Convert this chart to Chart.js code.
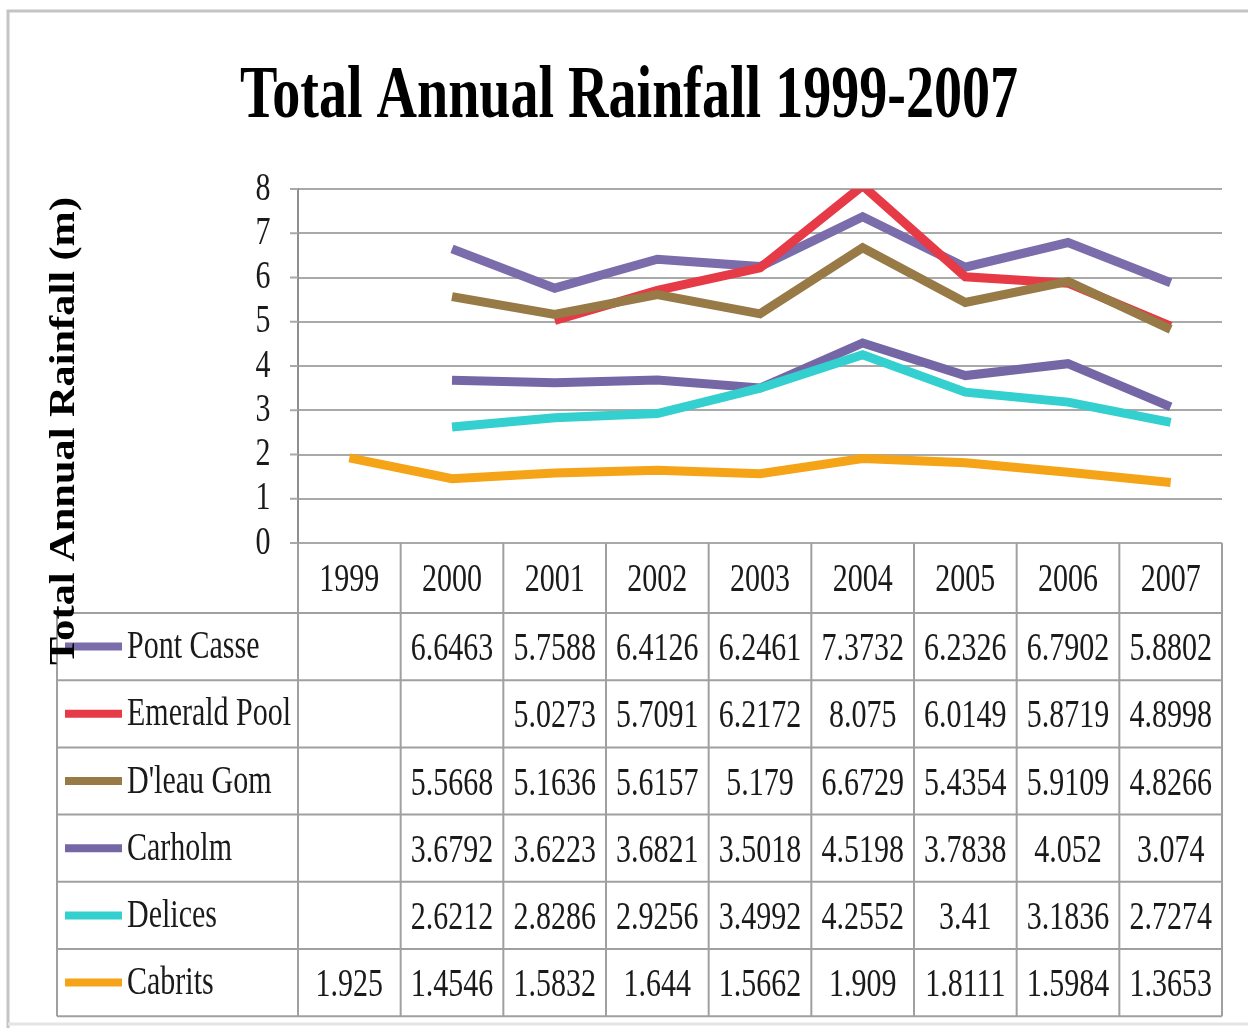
<!DOCTYPE html>
<html>
<head>
<meta charset="utf-8">
<title>Total Annual Rainfall 1999-2007</title>
<script src="https://cdn.jsdelivr.net/npm/chart.js@4/dist/chart.umd.min.js"></script>
<style>
  body { margin: 0; background: #fff; }
  #rain { display: block; }
</style>
</head>
<body>
<canvas id="rain" width="1248" height="1028"></canvas>
<script>
// data
const years = ['1999', '2000', '2001', '2002', '2003', '2004', '2005', '2006', '2007'];
const stations = ['Pont Casse', 'Emerald Pool', "D'leau Gom", 'Carholm', 'Delices', 'Cabrits'];
const pontCasse = [null, 6.6463, 5.7588, 6.4126, 6.2461, 7.3732, 6.2326, 6.7902, 5.8802];
const emeraldPool = [null, null, 5.0273, 5.7091, 6.2172, 8.075, 6.0149, 5.8719, 4.8998];
const dleauGom = [null, 5.5668, 5.1636, 5.6157, 5.179, 6.6729, 5.4354, 5.9109, 4.8266];
const carholm = [null, 3.6792, 3.6223, 3.6821, 3.5018, 4.5198, 3.7838, 4.052, 3.074];
const delices = [null, 2.6212, 2.8286, 2.9256, 3.4992, 4.2552, 3.41, 3.1836, 2.7274];
const cabrits = [1.925, 1.4546, 1.5832, 1.644, 1.5662, 1.909, 1.8111, 1.5984, 1.3653];
const yTicks = [0, 1, 2, 3, 4, 5, 6, 7, 8];

const series = [pontCasse, emeraldPool, dleauGom, carholm, delices, cabrits];
const colors = ['#7b6cab', '#e63a46', '#977a45', '#7566a6', '#34cfcf', '#f5a417'];

const serif = '"Liberation Serif", "DejaVu Serif", serif';
const gridGray = '#a9a9a9';
const tableGray = '#a0a0a0';

// squeezed text, the original uses a narrow serif
function squeezeText(ctx, str, x, y, font, sx, align) {
  ctx.save();
  ctx.font = font;
  ctx.textAlign = align || 'center';
  ctx.textBaseline = 'middle';
  ctx.translate(x, y);
  ctx.scale(sx, 1);
  ctx.fillText(str, 0, 0);
  ctx.restore();
}

// text stretched/squeezed to a given width
function fitText(ctx, str, x, y, font, width) {
  ctx.save();
  ctx.font = font;
  const w = ctx.measureText(str).width;
  squeezeText(ctx, str, x, y, font, width / w, 'center');
  ctx.restore();
}

const tablePlugin = {
  id: 'dataTable',
  afterDraw(chart) {
    const ctx = chart.ctx;
    const area = chart.chartArea;
    const xs = chart.scales.x;
    const ys = chart.scales.y;
    const colW = (area.right - area.left) / years.length;
    const cellFont = '40px ' + serif;
    const headTop = area.bottom;
    const rowTop = 613;
    const rowH = 67.2;
    const tableLeft = 57;
    const tableBottom = rowTop + rowH * stations.length;

    ctx.save();
    ctx.fillStyle = '#1a1a1a';

    // y tick labels and small tick marks
    ctx.strokeStyle = gridGray;
    ctx.lineWidth = 2;
    yTicks.forEach(t => {
      const y = ys.getPixelForValue(t);
      ctx.beginPath();
      ctx.moveTo(area.left - 8, y);
      ctx.lineTo(area.left, y);
      ctx.stroke();
      squeezeText(ctx, String(t), area.left - 35, y, cellFont, 0.75, 'center');
    });

    // table grid
    ctx.strokeStyle = tableGray;
    ctx.lineWidth = 2;
    for (let i = 0; i <= years.length; i++) {
      const x = area.left + i * colW;
      ctx.beginPath();
      ctx.moveTo(x, headTop);
      ctx.lineTo(x, tableBottom);
      ctx.stroke();
    }
    ctx.beginPath();
    ctx.moveTo(tableLeft, rowTop);
    ctx.lineTo(tableLeft, tableBottom);
    ctx.stroke();
    for (let r = 0; r <= stations.length; r++) {
      const y = rowTop + r * rowH;
      ctx.beginPath();
      ctx.moveTo(tableLeft, y);
      ctx.lineTo(area.right, y);
      ctx.stroke();
    }

    // header years
    years.forEach((yr, i) => {
      squeezeText(ctx, yr, xs.getPixelForValue(i), headTop + 37, cellFont, 0.75, 'center');
    });

    // rows: legend key + values
    stations.forEach((name, r) => {
      const cy = rowTop + r * rowH + rowH / 2;
      ctx.strokeStyle = colors[r];
      ctx.lineWidth = 8;
      ctx.beginPath();
      ctx.moveTo(65, cy);
      ctx.lineTo(122, cy);
      ctx.stroke();
      squeezeText(ctx, name, 127, cy + 1, cellFont, 0.75, 'left');
      series[r].forEach((v, i) => {
        if (v === null) return;
        squeezeText(ctx, String(v), xs.getPixelForValue(i), cy + 3, cellFont, 0.75, 'center');
      });
    });

    // title
    ctx.fillStyle = '#000';
    fitText(ctx, 'Total Annual Rainfall 1999-2007', 629, 98, 'bold 74px ' + serif, 778);

    // y axis title, rotated
    ctx.save();
    ctx.translate(65, 431);
    ctx.rotate(-Math.PI / 2);
    fitText(ctx, 'Total Annual Rainfall (m)', 0, 0, 'bold 36px ' + serif, 468);
    ctx.restore();

    // outer frame
    ctx.strokeStyle = '#c4c4c4';
    ctx.lineWidth = 3;
    ctx.beginPath();
    ctx.moveTo(8, 1028);
    ctx.lineTo(8, 11);
    ctx.lineTo(1248, 11);
    ctx.stroke();
    ctx.strokeStyle = '#e4e4e4';
    ctx.beginPath();
    ctx.moveTo(8, 1024);
    ctx.lineTo(1248, 1024);
    ctx.stroke();

    ctx.restore();
  }
};

const datasets = stations.map((name, i) => ({
  label: name,
  data: series[i],
  borderColor: colors[i],
  backgroundColor: colors[i],
  borderWidth: 9,
  borderCapStyle: 'butt',
  borderJoinStyle: 'miter',
  pointRadius: 0,
  tension: 0,
  order: stations.length - i
}));

new Chart(document.getElementById('rain'), {
  type: 'line',
  data: { labels: years, datasets: datasets },
  options: {
    responsive: false,
    animation: false,
    layout: { padding: { left: 298, right: 26, top: 189, bottom: 485 } },
    plugins: {
      legend: { display: false },
      title: { display: false },
      tooltip: { enabled: false }
    },
    scales: {
      x: {
        display: false,
        offset: true
      },
      y: {
        min: 0,
        max: 8,
        ticks: { display: false, stepSize: 1 },
        grid: { color: gridGray, lineWidth: 2, drawTicks: false },
        border: { color: '#8f8f8f', width: 2 }
      }
    }
  },
  plugins: [tablePlugin]
});
</script>
</body>
</html>
